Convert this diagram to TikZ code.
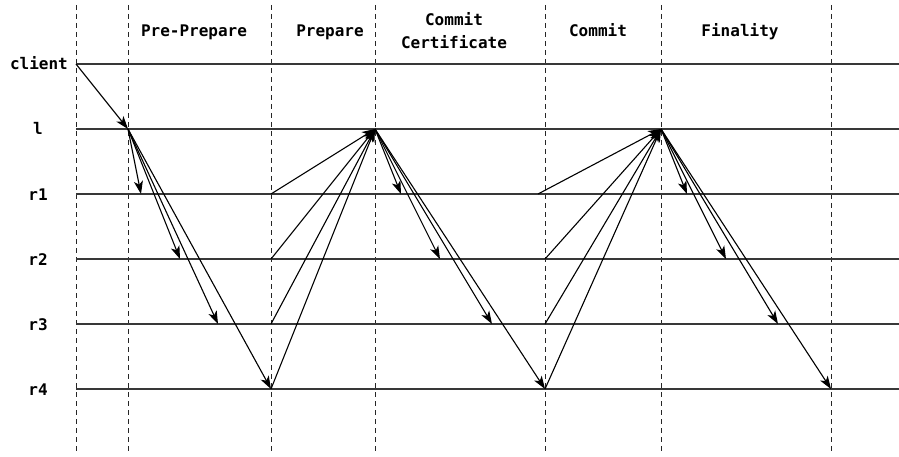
\documentclass[tikz,border=0pt]{standalone}
\usepackage{fontspec}
\newfontfamily\lblfont{DejaVu Sans Mono}
\usetikzlibrary{arrows.meta}
\begin{document}
\begin{tikzpicture}[x=1pt,y=-1pt,
  lane/.style={line width=1.8pt, draw=black!78},
  sep/.style={dash pattern=on 5pt off 4pt, line width=0.9pt, draw=black!85},
  msg/.style={line width=1.1pt, draw=black, -{Stealth[length=13pt,width=9pt,inset=3.5pt]}},
  lbl/.style={font=\lblfont\bfseries\fontsize{16}{22}\selectfont, inner sep=0pt, anchor=base},
]
\useasboundingbox (0,0) rectangle (899,457);
% phase separators
\foreach \n/\x in {v0/76, v1/128, v2/271, v3/375, v4/545, v5/661, v6/831} {
  \coordinate (\n t) at (\x,5);
  \coordinate (\n b) at (\x,453);
  \draw[sep] (\n t) -- (\n b);
}
% lanes
\foreach \n/\y in {client/64, l/129, r1/194, r2/259, r3/324, r4/389} {
  \coordinate (\n s) at (76,\y);
  \coordinate (\n e) at (899,\y);
  \draw[lane] (\n s) -- (\n e);
}
% lane labels
\node[lbl, anchor=base east] (tclient) at (68,70) {client};
\node[lbl] (tl) at (38,135) {l};
\node[lbl] (tr1) at (38,200.5) {r1};
\node[lbl] (tr2) at (38,265.5) {r2};
\node[lbl] (tr3) at (38,330.5) {r3};
\node[lbl] (tr4) at (38,395.5) {r4};
% phase labels
\node[lbl] (hpp) at (194,37) {Pre-Prepare};
\node[lbl] (hp) at (330,37) {Prepare};
\node[lbl] (hcc1) at (454,26) {Commit};
\node[lbl] (hcc2) at (454,49) {Certificate};
\node[lbl] (hc) at (598,37) {Commit};
\node[lbl] (hf) at (740,37) {Finality};
% event points
\coordinate (L1) at (128,129);
\coordinate (L2) at (375,129);
\coordinate (L3) at (661,129);
\coordinate (PP1) at (141,194);
\coordinate (PP2) at (180,259);
\coordinate (PP3) at (218,324);
\coordinate (PP4) at (271,389);
\coordinate (P1) at (271,194);
\coordinate (P2) at (271,259);
\coordinate (P3) at (271,324);
\coordinate (CC1) at (401,194);
\coordinate (CC2) at (440,259);
\coordinate (CC3) at (492,324);
\coordinate (CC4) at (545,389);
\coordinate (C1) at (538,194);
\coordinate (C2) at (545,259);
\coordinate (C3) at (545,324);
\coordinate (F1) at (687,194);
\coordinate (F2) at (726,259);
\coordinate (F3) at (778,324);
\coordinate (F4) at (831,389);
% messages
\draw[msg] (clients) -- (L1);
\foreach \t in {PP1,PP2,PP3,PP4} \draw[msg] (L1) -- (\t);
\foreach \s in {P1,P2,P3,PP4} \draw[msg] (\s) -- (L2);
\foreach \t in {CC1,CC2,CC3,CC4} \draw[msg] (L2) -- (\t);
\foreach \s in {C1,C2,C3,CC4} \draw[msg] (\s) -- (L3);
\foreach \t in {F1,F2,F3,F4} \draw[msg] (L3) -- (\t);
\end{tikzpicture}
\end{document}
